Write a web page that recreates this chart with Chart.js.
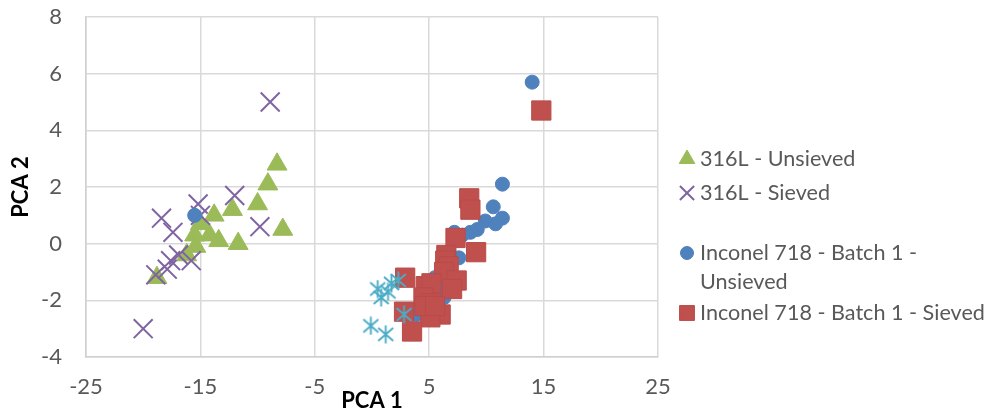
<!DOCTYPE html>
<html>
<head>
<meta charset="utf-8">
<script src="https://cdn.jsdelivr.net/npm/chart.js@4/dist/chart.umd.min.js"></script>
<style>
  html, body { margin: 0; padding: 0; background: #fff; }
  #wrap { width: 988px; height: 414px; position: relative; }
</style>
</head>
<body>
<div id="wrap"><canvas id="pca"></canvas></div>
<script>
// series, [PCA 1, PCA 2]
const unsieved316 = [[-8.3, 2.8], [-9.1, 2.1], [-10.0, 1.4], [-7.8, 0.5], [-12.2, 1.2], [-13.8, 1.0], [-14.2, 0.3],
  [-13.4, 0.1], [-11.7, 0.0], [-15.5, 0.3], [-15.4, -0.1], [-16.2, -0.4], [-18.8, -1.2], [-15.0, 0.7]];
const sieved316 = [[-8.9, 5.0], [-12.0, 1.7], [-15.2, 1.4], [-18.4, 0.9], [-15.0, 1.0], [-17.4, 0.4], [-9.8, 0.6],
  [-17.6, -0.6], [-15.8, -0.6], [-16.9, -0.4], [-17.9, -0.9], [-18.9, -1.1], [-20.0, -3.0]];
const inconelUnsieved = [[14.0, 5.7], [11.4, 2.1], [10.6, 1.3], [11.4, 0.9], [10.8, 0.7], [9.9, 0.8], [9.2, 0.5],
  [8.6, 0.4], [7.2, 0.4], [7.9, 0.3], [7.6, -0.5], [6.8, -0.8], [5.5, -1.2], [6.0, -1.5], [6.3, -1.9], [3.9, -2.5], [-15.5, 1.0]];
const inconelSieved = [[14.8, 4.7], [8.5, 1.6], [8.6, 1.2], [7.3, 0.2], [9.1, -0.3], [6.5, -0.4], [6.4, -0.6], [6.7, -0.8],
  [6.3, -1.0], [7.4, -1.3], [7.0, -1.6], [2.9, -1.2], [4.7, -1.5], [5.2, -1.4], [4.5, -1.9], [5.2, -2.1], [6.0, -2.5],
  [5.1, -2.6], [2.8, -2.4], [3.5, -3.1], [4.6, -2.2], [5.5, -2.2]];
const extraSeries = [[2.3, -1.3], [1.7, -1.4], [0.5, -1.6], [1.4, -1.7], [0.8, -1.9], [2.8, -2.5], [-0.1, -2.9], [1.2, -3.2]];

const seriesNames = ['316L - Unsieved', '316L - Sieved', 'Inconel 718 - Batch 1 - Unsieved', 'Inconel 718 - Batch 1 - Sieved'];
const legendLines = [['316L - Unsieved'], ['316L - Sieved'], ['Inconel 718 - Batch 1 -', 'Unsieved'], ['Inconel 718 - Batch 1 - Sieved']];
const xTicks = [-25, -15, -5, 5, 15, 25];
const yTicks = [-4, -2, 0, 2, 4, 6, 8];

const FONT = 'Lato';
const toPts = arr => arr.map(p => ({ x: p[0], y: p[1] }));

// excel-like asterisk (X plus vertical bar)
function makeStar(color) {
    const c = document.createElement('canvas');
    c.width = 19; c.height = 19;
    const g = c.getContext('2d');
    g.strokeStyle = color; g.lineWidth = 1.9;
    g.beginPath();
    g.moveTo(2, 3); g.lineTo(17, 16);
    g.moveTo(17, 3); g.lineTo(2, 16);
    g.moveTo(9.5, 0.5); g.lineTo(9.5, 18.5);
    g.stroke();
    return c;
}

const legendPlugin = {
    id: 'sideLegend',
    afterDraw(chart) {
        const ctx = chart.ctx;
        const a = chart.chartArea;
        const mx = a.right + 29, tx = a.right + 42;
        const rows = [159, 193, 253, 313];
        ctx.save();
        ctx.font = '21.6px ' + FONT;
        ctx.textBaseline = 'middle';
        chart.data.datasets.slice(0, 4).forEach((ds, i) => {
            const st = { pointStyle: ds.pointStyle, radius: ds.legendRadius, borderWidth: ds.borderWidth, rotation: 0 };
            ctx.fillStyle = ds.backgroundColor;
            ctx.strokeStyle = ds.borderColor;
            ctx.lineWidth = ds.borderWidth;
            Chart.helpers.drawPoint(ctx, st, mx, rows[i]);
            ctx.fillStyle = '#595959';
            legendLines[i].forEach((t, j) => ctx.fillText(t, tx, rows[i] + j * 29));
        });
        ctx.restore();
    }
};

new Chart(document.getElementById('pca'), {
    type: 'scatter',
    data: {
        datasets: [
            { label: seriesNames[0], data: toPts(unsieved316), pointStyle: 'triangle', pointRadius: 11.5, legendRadius: 9,
              backgroundColor: '#9BBB59', borderColor: '#9BBB59', borderWidth: 1, order: 5 },
            { label: seriesNames[1], data: toPts(sieved316), pointStyle: 'crossRot', pointRadius: 13.4, legendRadius: 10,
              backgroundColor: '#8064A2', borderColor: '#8064A2', borderWidth: 2, order: 4 },
            { label: seriesNames[2], data: toPts(inconelUnsieved), pointStyle: 'circle', pointRadius: 7, legendRadius: 6.5,
              backgroundColor: '#4F81BD', borderColor: '#4F81BD', borderWidth: 1, order: 3 },
            { label: seriesNames[3], data: toPts(inconelSieved), pointStyle: 'rect', pointRadius: 13.6, legendRadius: 10.5,
              backgroundColor: '#C0504D', borderColor: '#B84B48', borderWidth: 1, order: 2 },
            { label: '', data: toPts(extraSeries), pointStyle: makeStar('#4BACC6'), pointRadius: 9,
              backgroundColor: '#4BACC6', borderColor: '#4BACC6', borderWidth: 1, order: 1 }
        ]
    },
    options: {
        responsive: true,
        maintainAspectRatio: false,
        animation: false,
        events: [],
        layout: { padding: { left: 8, right: 330, top: 17, bottom: 0 } },
        plugins: { legend: { display: false }, tooltip: { enabled: false } },
        scales: {
            x: {
                type: 'linear', min: -25, max: 25,
                afterBuildTicks: s => { s.ticks = xTicks.map(v => ({ value: v })); },
                afterFit: s => { s.height = 57; },
                grid: { color: '#d9d9d9', lineWidth: 1.5, drawTicks: true, tickLength: 17, tickColor: 'rgba(0,0,0,0)' },
                border: { color: '#d0d0d0', width: 1.5 },
                ticks: { color: '#595959', padding: 0, font: { family: FONT, size: 22 } },
                title: { display: true, text: 'PCA 1', color: '#000', padding: 0,
                         font: { family: FONT, size: 22, weight: 'bold' } }
            },
            y: {
                type: 'linear', min: -4, max: 8,
                afterBuildTicks: s => { s.ticks = yTicks.map(v => ({ value: v })); },
                afterFit: s => { s.width = 78; },
                grid: { color: '#d9d9d9', lineWidth: 1.5, drawTicks: true, tickLength: 24, tickColor: 'rgba(0,0,0,0)' },
                border: { color: '#d0d0d0', width: 1.5 },
                ticks: { color: '#595959', padding: 0, font: { family: FONT, size: 22 } },
                title: { display: true, text: 'PCA 2', color: '#000', padding: 0,
                         font: { family: FONT, size: 22, weight: 'bold' } }
            }
        }
    },
    plugins: [legendPlugin]
});
</script>
</body>
</html>
